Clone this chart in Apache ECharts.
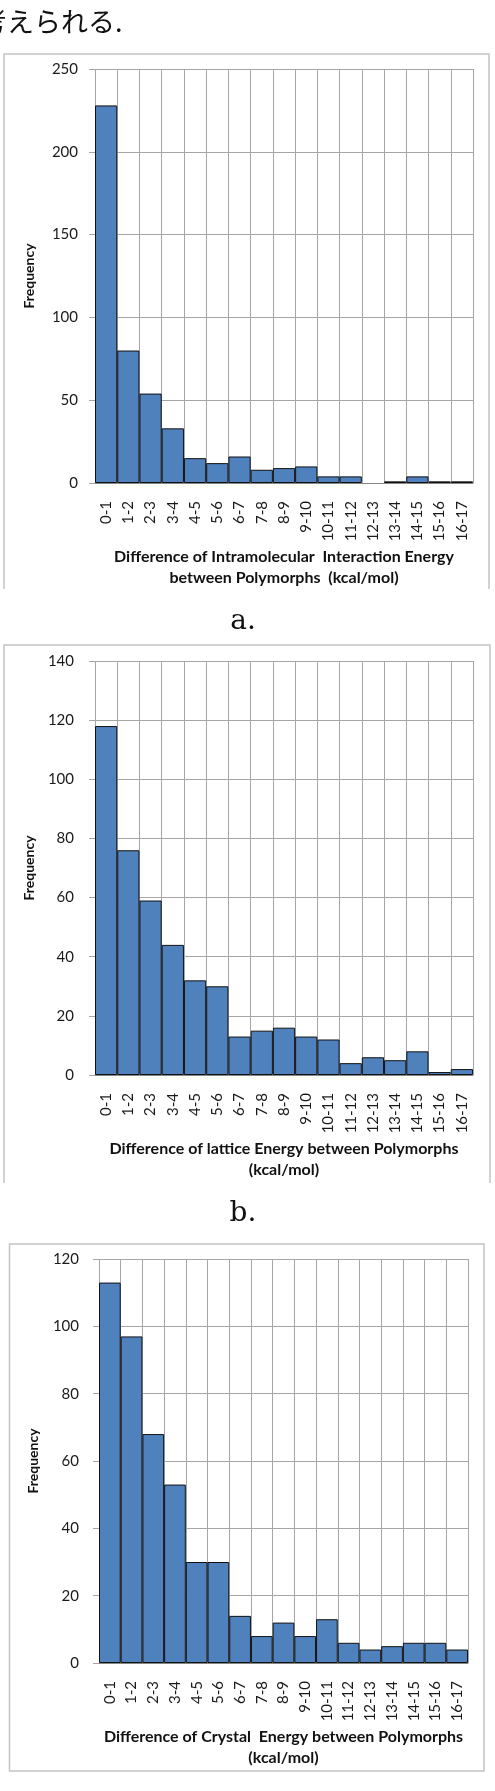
<!DOCTYPE html>
<html>
<head>
<meta charset="utf-8">
<script src="https://cdn.jsdelivr.net/npm/echarts@6/dist/echarts.min.js"></script>
<style>
html,body{margin:0;padding:0;background:#fff;}
#c{width:495px;height:1791px;}
</style>
</head>
<body>
<div id="c"></div>
<script>
const categories = ['0-1','1-2','2-3','3-4','4-5','5-6','6-7','7-8','8-9','9-10','10-11','11-12','12-13','13-14','14-15','15-16','16-17'];
const intraValues   = [228, 80, 54, 33, 15, 12, 16, 8, 9, 10, 4, 4, 0, 1, 4, 1, 1];
const latticeValues = [118, 76, 59, 44, 32, 30, 13, 15, 16, 13, 12, 4, 6, 5, 8, 1, 2];
const crystalValues = [113, 97, 68, 53, 30, 30, 14, 8, 12, 8, 13, 6, 4, 5, 6, 6, 4];
const yAxisA = {max: 250, interval: 50};
const yAxisB = {max: 140, interval: 20};
const yAxisC = {max: 120, interval: 20};
const xNameA = 'Difference of Intramolecular  Interaction Energy\nbetween Polymorphs  (kcal/mol)';
const xNameB = 'Difference of lattice Energy between Polymorphs\n(kcal/mol)';
const xNameC = 'Difference of Crystal  Energy between Polymorphs\n(kcal/mol)';
const yName = 'Frequency';
const captions = ['a.', 'b.'];
const topText = '考えられる.';

const FONT = 'Lato, "Open Sans", sans-serif';
const GRID_COLOR = '#a6a6a6';

const grids = [
  {left: 95, right: 22, top: 69, height: 414},
  {left: 95, right: 22, top: 661, height: 414},
  {left: 99, right: 27, top: 1259, height: 404}
];

function xAxis(i, name) {
  return {
    type: 'category', gridIndex: i, data: categories, boundaryGap: true,
    axisLine: {show: true, lineStyle: {color: '#868686', width: 1}},
    axisTick: {show: false},
    splitLine: {show: true, lineStyle: {color: GRID_COLOR, width: 1}},
    axisLabel: {rotate: 90, margin: 18, fontSize: 15, color: '#1a1a1a', fontFamily: FONT, interval: 0},
    name: name, nameLocation: 'middle', nameGap: 63,
    nameTextStyle: {fontSize: 16, fontWeight: 'bold', color: '#111', fontFamily: FONT, lineHeight: 21}
  };
}
function yAxis(i, cfg, margin) {
  return {
    type: 'value', gridIndex: i, min: 0, max: cfg.max, interval: cfg.interval,
    axisLine: {show: false},
    axisTick: {show: true, length: 6, lineStyle: {color: GRID_COLOR}},
    splitLine: {show: true, lineStyle: {color: GRID_COLOR, width: 1}},
    axisLabel: {margin: margin, fontSize: 15, color: '#1a1a1a', fontFamily: FONT},
    name: yName, nameLocation: 'middle', nameGap: 59, nameRotate: 90,
    nameTextStyle: {fontSize: 14, fontWeight: 'bold', color: '#111', fontFamily: FONT}
  };
}
function barSeries(i, data) {
  return {
    type: 'bar', xAxisIndex: i, yAxisIndex: i,
    data: data.map(v => v === 0 ? {value: v, itemStyle: {borderWidth: 0}} : v),
    barCategoryGap: '0%',
    itemStyle: {color: '#4f81bd', borderColor: '#111', borderWidth: 1},
    silent: true
  };
}

const chart = echarts.init(document.getElementById('c'), null, {renderer: 'canvas'});
chart.setOption({
  animation: false,
  backgroundColor: '#fff',
  grid: grids,
  xAxis: [xAxis(0, xNameA), xAxis(1, xNameB), xAxis(2, xNameC)],
  yAxis: [yAxis(0, yAxisA, 17), yAxis(1, yAxisB, 21), yAxis(2, yAxisC, 20)],
  series: [barSeries(0, intraValues), barSeries(1, latticeValues), barSeries(2, crystalValues)],
  graphic: [
    {type: 'polyline', z: -1, shape: {points: [[4, 589], [4, 54], [489, 54], [489, 589]]},
     style: {stroke: '#c4c4c4', lineWidth: 1.5, fill: null}},
    {type: 'polyline', z: -1, shape: {points: [[4, 1183], [4, 645], [490, 645], [490, 1183]]},
     style: {stroke: '#c4c4c4', lineWidth: 1.5, fill: null}},
    {type: 'rect', z: -1, shape: {x: 9.5, y: 1244, width: 474.5, height: 527},
     style: {stroke: '#c4c4c4', lineWidth: 1.5, fill: null}},
    {type: 'text', left: -20, top: 8,
     style: {text: topText, font: '27px "Noto Sans CJK JP"', fill: '#111'}},
    {type: 'text', x: 243, y: 622,
     style: {text: captions[0], font: '28px "DejaVu Serif"', fill: '#111', textAlign: 'center', textVerticalAlign: 'middle'}},
    {type: 'text', x: 243, y: 1214,
     style: {text: captions[1], font: '28px "DejaVu Serif"', fill: '#111', textAlign: 'center', textVerticalAlign: 'middle'}}
  ]
});
</script>
</body>
</html>
